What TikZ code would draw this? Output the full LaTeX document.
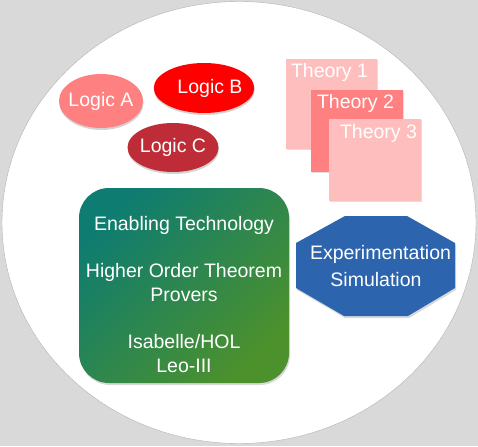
\documentclass[tikz,border=0pt]{standalone}
\usepackage{fontspec}
\setmainfont{Liberation Sans}
\usetikzlibrary{
positioning,
shadows,
shapes.geometric
}
\definecolor{logicA}{RGB}{255,128,128}
\definecolor{logicB}{RGB}{255,0,0}
\definecolor{logicC}{RGB}{190,45,55}
\definecolor{theoryLight}{RGB}{255,190,190}
\definecolor{theoryDark}{RGB}{255,128,128}
\definecolor{techTeal}{RGB}{14,124,112}
\definecolor{techGreen}{RGB}{76,145,44}
\definecolor{expBlue}{RGB}{44,100,174}
\tikzset{
	logic/.style={ellipse,inner xsep=-3pt,inner ysep=0pt,text=white,drop shadow={opacity=0.35,shadow xshift=0.5pt,shadow yshift=-2pt}},
	theory/.style={rectangle,inner sep=0pt,drop shadow={opacity=0.25,shadow xshift=1pt,shadow yshift=-1pt}},
	whitetext/.style={inner sep=0pt,text=white},
	softshadow/.style={drop shadow={opacity=0.3,shadow xshift=1pt,shadow yshift=-2pt}}
}

\begin{document}
\begin{tikzpicture}[x=1pt, y=-1pt, font=\fontsize{19.5}{24}\selectfont]
		\useasboundingbox (0,0) rectangle (478,446);
		\fill[black!15] (0,0) rectangle (478,446);
		\draw[draw=black!30,line width=0.4pt,fill=white] (239,222.5) ellipse [x radius=237, y radius=221];
		
		\node[logic,fill=logicA,minimum width=84,minimum height=54] (logica) at (101,101) {Logic A};
		\node[logic,fill=logicB,minimum width=100,minimum height=50] (logicb) at (204,88) {\hspace{12pt}Logic B};
		\node[logic,fill=logicC,minimum width=91,minimum height=49] (logicc) at (173,147.5) {Logic C};
		
		\node[theory,fill=theoryLight,minimum width=91,minimum height=90] (theory1) at (331.5,104) {};
		\node[theory,fill=theoryDark,minimum width=92,minimum height=82] (theory2) at (357,131) {};
		\node[theory,fill=theoryLight,minimum width=92,minimum height=82] (theory3) at (375,160) {};
		
		\node[whitetext,anchor=north west] at ([xshift=5,yshift=-4]theory1.north west) {Theory 1};
		\node[whitetext,anchor=north west] at ([xshift=6,yshift=-4]theory2.north west) {Theory 2};
		\node[whitetext,anchor=north west] at ([xshift=11,yshift=-5]theory3.north west) {Theory 3};
		
		\node[rectangle,rounded corners=30,minimum width=210,minimum height=195,top color=techTeal,bottom color=techGreen,shading angle=45,softshadow] (tech) at (184,285.5) {};
		\node[whitetext,align=center] (techtext) at ([yshift=-9]tech.center)
			{Enabling Technology\\[23pt]Higher Order Theorem\\Provers\\[23pt]Isabelle/HOL\\Leo-III};
		
		\fill[expBlue,softshadow] (296,243) -- (345,216) -- (407,216) -- (455,243) -- (455,288) -- (408,316) -- (344,316) -- (296,288) -- cycle;
		\node[whitetext,align=center] (experiment) at (376,266) {\hspace{9pt}Experimentation\\[3pt]Simulation};
	\end{tikzpicture}
\end{document}
